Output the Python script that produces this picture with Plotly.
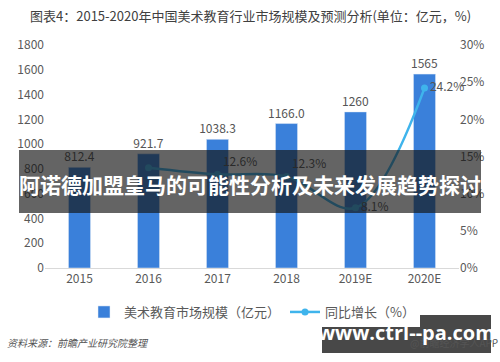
import plotly.graph_objects as go

categories = ["2015", "2016", "2017", "2018", "2019E", "2020E"]
market_size = [812.4, 921.7, 1038.3, 1166.0, 1260, 1565]
market_labels = ["812.4", "921.7", "1038.3", "1166.0", "1260", "1565"]
growth_cats = ["2016", "2017", "2018", "2019E", "2020E"]
growth = [13.5, 12.6, 12.3, 8.1, 24.2]
growth_labels = ["", "12.6%", "12.3%", "8.1%", "24.2%"]

FONT = "Noto Sans CJK SC, Noto Sans, sans-serif"
L, R, T, B = 45, 41, 45, 94
W, H = 500, 362
PW, PH = W - L - R, H - T - B

def px(X):
    return (X - L) / PW

def py(Y):
    return (H - B - Y) / PH

fig = go.Figure()
fig.add_trace(go.Bar(
    x=categories, y=market_size, name="美术教育市场规模（亿元）",
    marker_color="#3A80DA", width=0.32,
    text=market_labels, textposition="outside", constraintext="none", textangle=0,
    textfont=dict(size=12, color="#555555", family=FONT),
    cliponaxis=False,
))
fig.add_trace(go.Scatter(
    x=growth_cats, y=growth, name="同比增长（%）", yaxis="y2",
    mode="lines+markers+text", line=dict(color="#3FB4EC", width=2.5, shape="spline"),
    marker=dict(size=7, color="#3FB4EC"),
    text=growth_labels,
    textposition=["top right", "top right", "top right", "middle right", "middle right"],
    textfont=dict(size=12, color="#555555", family=FONT),
    cliponaxis=False,
))

fig.update_layout(
    width=W, height=H, margin=dict(l=L, r=R, t=T, b=B),
    paper_bgcolor="white", plot_bgcolor="white",
    font=dict(family=FONT, color="#595959", size=12),
    showlegend=True,
    legend=dict(orientation="h", x=0.5, xanchor="center", y=py(312), yanchor="middle",
                font=dict(size=13, color="#595959"), itemwidth=30),
    xaxis=dict(showgrid=False, showline=True, linecolor="#D9D9D9", ticks="",
               tickfont=dict(size=12, color="#595959")),
    yaxis=dict(range=[0, 1800], dtick=200, showgrid=False, zeroline=False,
               tickfont=dict(size=12, color="#595959")),
    yaxis2=dict(range=[0, 30], dtick=5, ticksuffix="%", overlaying="y", side="right",
                showgrid=False, zeroline=False, tickfont=dict(size=12, color="#595959")),
    bargap=0.5,
)

# title
fig.add_annotation(xref="paper", yref="paper", x=px(250), y=py(15), showarrow=False,
                   text="图表4：2015-2020年中国美术教育行业市场规模及预测分析(单位：亿元，%)",
                   font=dict(size=13, color="#404040", family=FONT), xanchor="center", yanchor="middle")
# source
fig.add_annotation(xref="paper", yref="paper", x=px(5), y=py(342), showarrow=False,
                   text="<i>资料来源：前瞻产业研究院整理</i>",
                   font=dict(size=10, color="#555555", family=FONT), xanchor="left", yanchor="middle")
fig.add_annotation(xref="paper", yref="paper", x=px(500), y=py(342), showarrow=False,
                   text="@前瞻经济学人APP",
                   font=dict(size=10, color="#555555", family=FONT), xanchor="right", yanchor="middle")

# overlay banner
fig.add_shape(type="rect", xref="paper", yref="paper", layer="above",
              x0=px(19), x1=px(481), y0=py(213), y1=py(150),
              fillcolor="rgba(20,20,20,0.66)", line=dict(width=0))
fig.add_annotation(xref="paper", yref="paper", x=px(250), y=py(184), showarrow=False,
                   text="<b>阿诺德加盟皇马的可能性分析及未来发展趋势探讨</b>",
                   font=dict(size=21, color="white", family=FONT), xanchor="center", yanchor="middle")
# url box
fig.add_shape(type="rect", xref="paper", yref="paper", layer="above",
              x0=px(322), x1=px(491), y0=py(353), y1=py(315),
              fillcolor="rgba(20,20,20,0.78)", line=dict(width=0))
fig.add_annotation(xref="paper", yref="paper", x=px(406), y=py(332), showarrow=False,
                   text="<b>www.ctrl--pa.com</b>",
                   font=dict(size=20, color="white", family="Open Sans, DejaVu Sans, sans-serif"),
                   xanchor="center", yanchor="middle")

fig.write_html("out.html")
